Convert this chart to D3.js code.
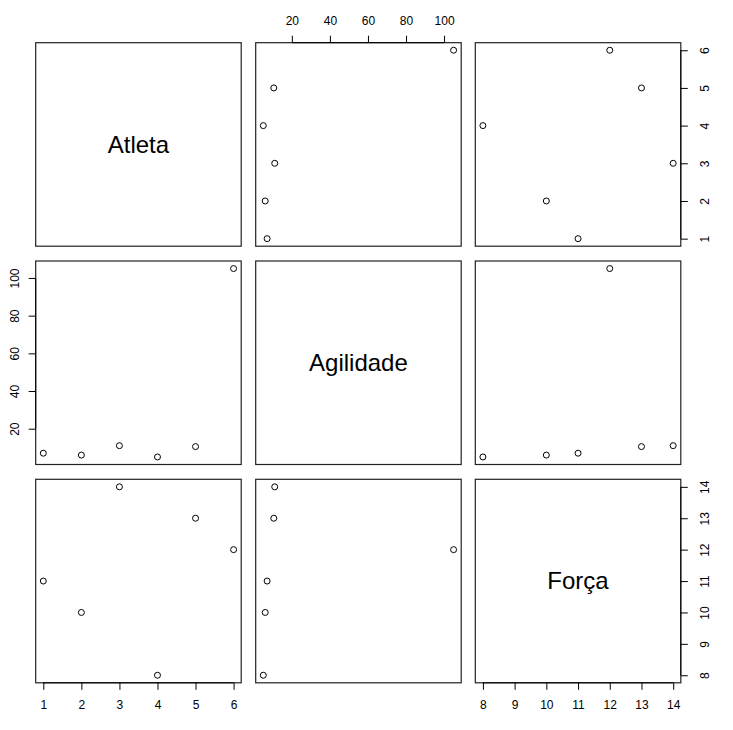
<!DOCTYPE html>
<html><head><meta charset="utf-8">
<script src="https://cdn.jsdelivr.net/npm/d3@7"></script>
<style>body{margin:0;background:#fff}svg{display:block}text{font-family:"Liberation Sans",Arial,Helvetica,sans-serif}</style>
</head><body>
<script>
const varNames = ["Atleta", "Agilidade", "Força"];
const atleta = [1, 2, 3, 4, 5, 6];
const agilidade = [7, 6, 11, 5, 10.5, 105];
const forca = [11, 10, 14, 8, 13, 12];
const atletaTicks = [1, 2, 3, 4, 5, 6];
const agilidadeTicks = [20, 40, 60, 80, 100];
const forcaTicks = [8, 9, 10, 11, 12, 13, 14];

const W = 733, H = 730;
const colX = [35.7, 255.7, 475.3], pw = 205.5;
const rowY = [42.7, 261, 479.3], ph = 203.5;

const data = [atleta, agilidade, forca];
const ticks = [atletaTicks, agilidadeTicks, forcaTicks];
function padDomain(v){ const [a,b]=d3.extent(v); const p=(b-a)*0.04; return [a-p,b+p]; }
const domains = data.map(padDomain);

const svg = d3.select("body").append("svg").attr("width", W).attr("height", H);

const n = 3;
for (let r = 0; r < n; r++) {
  for (let c = 0; c < n; c++) {
    const g = svg.append("g").attr("transform", `translate(${colX[c]},${rowY[r]})`);
    const xs = d3.scaleLinear().domain(domains[c]).range([0, pw]);
    const ys = d3.scaleLinear().domain(domains[r]).range([ph, 0]);
    if (r === c) {
      g.append("text").attr("x", pw/2).attr("y", ph/2).attr("dy", "0.35em")
        .attr("text-anchor", "middle").attr("font-size", 24).attr("fill", "#000").text(varNames[r]);
    } else {
      g.selectAll("circle").data(data[c].map((v,i)=>[v, data[r][i]])).enter().append("circle")
        .attr("cx", d=>xs(d[0])).attr("cy", d=>ys(d[1])).attr("r", 3)
        .attr("fill", "none").attr("stroke", "#000").attr("stroke-width", 1);
    }
    g.append("rect").attr("x", 0).attr("y", 0).attr("width", pw).attr("height", ph)
      .attr("fill", "none").attr("stroke", "#222").attr("stroke-width", 1.2);

    // x axes
    if (r === n-1 && c % 2 === 0) {
      const ax = g.append("g").attr("transform", `translate(0,${ph})`)
        .call(d3.axisBottom(xs).tickValues(ticks[c]).tickFormat(d3.format("d")).tickSize(7).tickSizeOuter(0));
      ax.select(".domain").remove();
      ax.selectAll("text").attr("y", 0).attr("dy", 0).attr("transform", "translate(0,26)").attr("font-size", 12).attr("fill", "#000");
      const t = ticks[c];
      ax.append("line").attr("x1", xs(t[0])).attr("x2", xs(t[t.length-1])).attr("stroke", "#000");
    }
    if (r === 0 && c % 2 === 1) {
      const ax = g.append("g")
        .call(d3.axisTop(xs).tickValues(ticks[c]).tickFormat(d3.format("d")).tickSize(7).tickSizeOuter(0));
      ax.select(".domain").remove();
      ax.selectAll("text").attr("y", 0).attr("dy", 0).attr("transform", "translate(0,-18)").attr("font-size", 12).attr("fill", "#000");
      const t = ticks[c];
      ax.append("line").attr("x1", xs(t[0])).attr("x2", xs(t[t.length-1])).attr("stroke", "#000");
    }
    // y axes
    if (c === 0 && r % 2 === 1) {
      const ax = g.append("g")
        .call(d3.axisLeft(ys).tickValues(ticks[r]).tickFormat(d3.format("d")).tickSize(7).tickSizeOuter(0));
      ax.select(".domain").remove();
      ax.selectAll("text").attr("x", 0).attr("dy", 0).attr("text-anchor", "middle")
        .attr("transform", "translate(-17,0) rotate(-90)").attr("font-size", 12).attr("fill", "#000");
      const t = ticks[r];
      ax.append("line").attr("y1", ys(t[0])).attr("y2", ys(t[t.length-1])).attr("stroke", "#000");
    }
    if (c === n-1 && r % 2 === 0) {
      const ax = g.append("g").attr("transform", `translate(${pw},0)`)
        .call(d3.axisRight(ys).tickValues(ticks[r]).tickFormat(d3.format("d")).tickSize(7).tickSizeOuter(0));
      ax.select(".domain").remove();
      ax.selectAll("text").attr("x", 0).attr("dy", 0).attr("text-anchor", "middle")
        .attr("transform", "translate(28,0) rotate(-90)").attr("font-size", 12).attr("fill", "#000");
      const t = ticks[r];
      ax.append("line").attr("y1", ys(t[0])).attr("y2", ys(t[t.length-1])).attr("stroke", "#000");
    }
  }
}
</script>
</body></html>
